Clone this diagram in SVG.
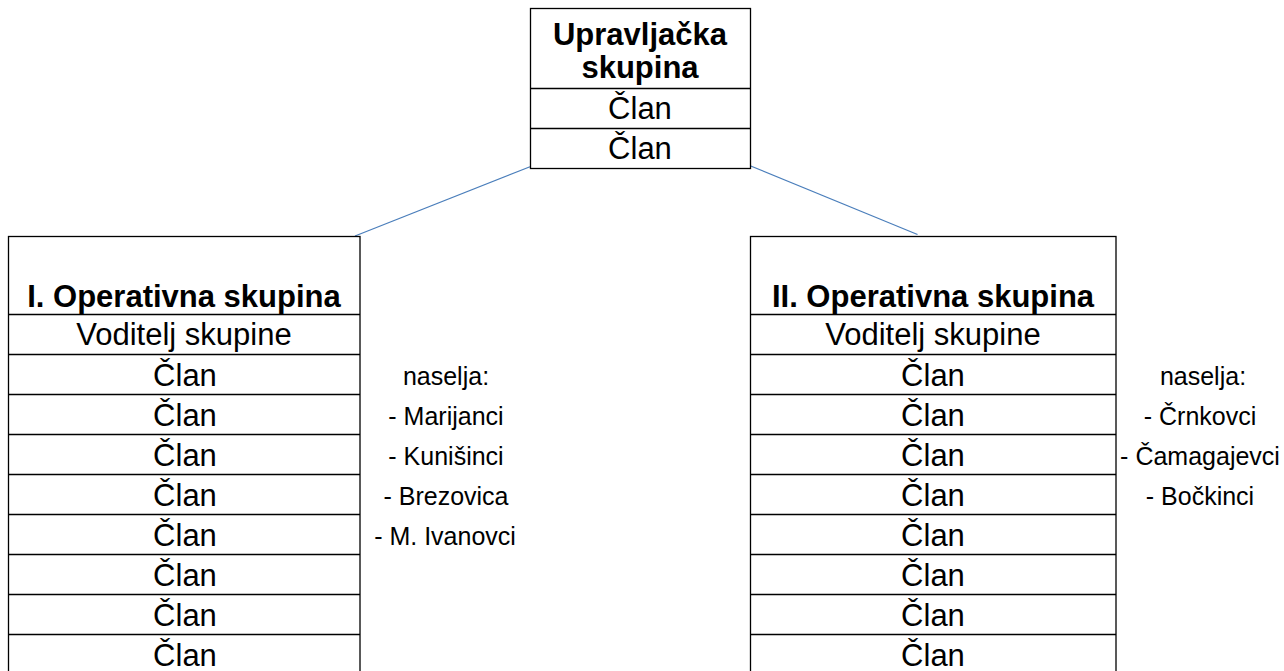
<svg xmlns="http://www.w3.org/2000/svg" width="1284" height="671" viewBox="0 0 1284 671">
<style>
.box{fill:#fff;stroke:#000;stroke-width:1.3}
.div{stroke:#000;stroke-width:1.3}
.t{font-family:"Liberation Sans",Arial,sans-serif;font-size:31px;text-anchor:middle;fill:#000}
.b{font-weight:bold}
.s{font-family:"Liberation Sans",Arial,sans-serif;font-size:25px;text-anchor:middle;fill:#000}
.c{stroke:#4a7ebb;stroke-width:1.2;fill:none}
</style>
<rect width="1284" height="671" fill="#fff"/>
<g id="connectors">
<line class="c" x1="530" y1="166.7" x2="355" y2="236"/>
<line class="c" x1="749.5" y1="165.5" x2="917.5" y2="234.5"/>
</g>
<g id="upravljacka">
<rect class="box" x="530.5" y="8.5" width="220" height="160"/>
<line class="div" x1="530.5" y1="88.5" x2="750.5" y2="88.5"/>
<line class="div" x1="530.5" y1="128.5" x2="750.5" y2="128.5"/>
<text class="t b" x="640" y="45">Upravljačka</text>
<text class="t b" x="640" y="78">skupina</text>
<text class="t" x="640" y="119">Član</text>
<text class="t" x="640" y="159">Član</text>
</g>
<g id="op1">
<rect class="box" x="8.5" y="236.5" width="351.5" height="440"/>
<line class="div" x1="8.5" y1="314.5" x2="360" y2="314.5"/>
<line class="div" x1="8.5" y1="354.5" x2="360" y2="354.5"/>
<line class="div" x1="8.5" y1="394.5" x2="360" y2="394.5"/>
<line class="div" x1="8.5" y1="434.5" x2="360" y2="434.5"/>
<line class="div" x1="8.5" y1="474.5" x2="360" y2="474.5"/>
<line class="div" x1="8.5" y1="514.5" x2="360" y2="514.5"/>
<line class="div" x1="8.5" y1="554.5" x2="360" y2="554.5"/>
<line class="div" x1="8.5" y1="594.5" x2="360" y2="594.5"/>
<line class="div" x1="8.5" y1="634.5" x2="360" y2="634.5"/>
<text class="t b" x="184" y="307">I. Operativna skupina</text>
<text class="t" x="184" y="345">Voditelj skupine</text>
<text class="t" x="185" y="386">Član</text>
<text class="t" x="185" y="426">Član</text>
<text class="t" x="185" y="466">Član</text>
<text class="t" x="185" y="506">Član</text>
<text class="t" x="185" y="546">Član</text>
<text class="t" x="185" y="586">Član</text>
<text class="t" x="185" y="626">Član</text>
<text class="t" x="185" y="666">Član</text>
</g>
<g id="naselja1">
<text class="s" x="446" y="385">naselja:</text>
<text class="s" x="446" y="425">- Marijanci</text>
<text class="s" x="446" y="465">- Kunišinci</text>
<text class="s" x="446" y="505">- Brezovica</text>
<text class="s" x="445" y="545">- M. Ivanovci</text>
</g>
<g id="op2">
<rect class="box" x="750.5" y="236.5" width="365.5" height="440"/>
<line class="div" x1="750.5" y1="314.5" x2="1116" y2="314.5"/>
<line class="div" x1="750.5" y1="354.5" x2="1116" y2="354.5"/>
<line class="div" x1="750.5" y1="394.5" x2="1116" y2="394.5"/>
<line class="div" x1="750.5" y1="434.5" x2="1116" y2="434.5"/>
<line class="div" x1="750.5" y1="474.5" x2="1116" y2="474.5"/>
<line class="div" x1="750.5" y1="514.5" x2="1116" y2="514.5"/>
<line class="div" x1="750.5" y1="554.5" x2="1116" y2="554.5"/>
<line class="div" x1="750.5" y1="594.5" x2="1116" y2="594.5"/>
<line class="div" x1="750.5" y1="634.5" x2="1116" y2="634.5"/>
<text class="t b" x="933" y="307">II. Operativna skupina</text>
<text class="t" x="933" y="345">Voditelj skupine</text>
<text class="t" x="933" y="386">Član</text>
<text class="t" x="933" y="426">Član</text>
<text class="t" x="933" y="466">Član</text>
<text class="t" x="933" y="506">Član</text>
<text class="t" x="933" y="546">Član</text>
<text class="t" x="933" y="586">Član</text>
<text class="t" x="933" y="626">Član</text>
<text class="t" x="933" y="666">Član</text>
</g>
<g id="naselja2">
<text class="s" x="1203" y="385">naselja:</text>
<text class="s" x="1200" y="425">- Črnkovci</text>
<text class="s" x="1200" y="465">- Čamagajevci</text>
<text class="s" x="1200" y="505">- Bočkinci</text>
</g>
</svg>
